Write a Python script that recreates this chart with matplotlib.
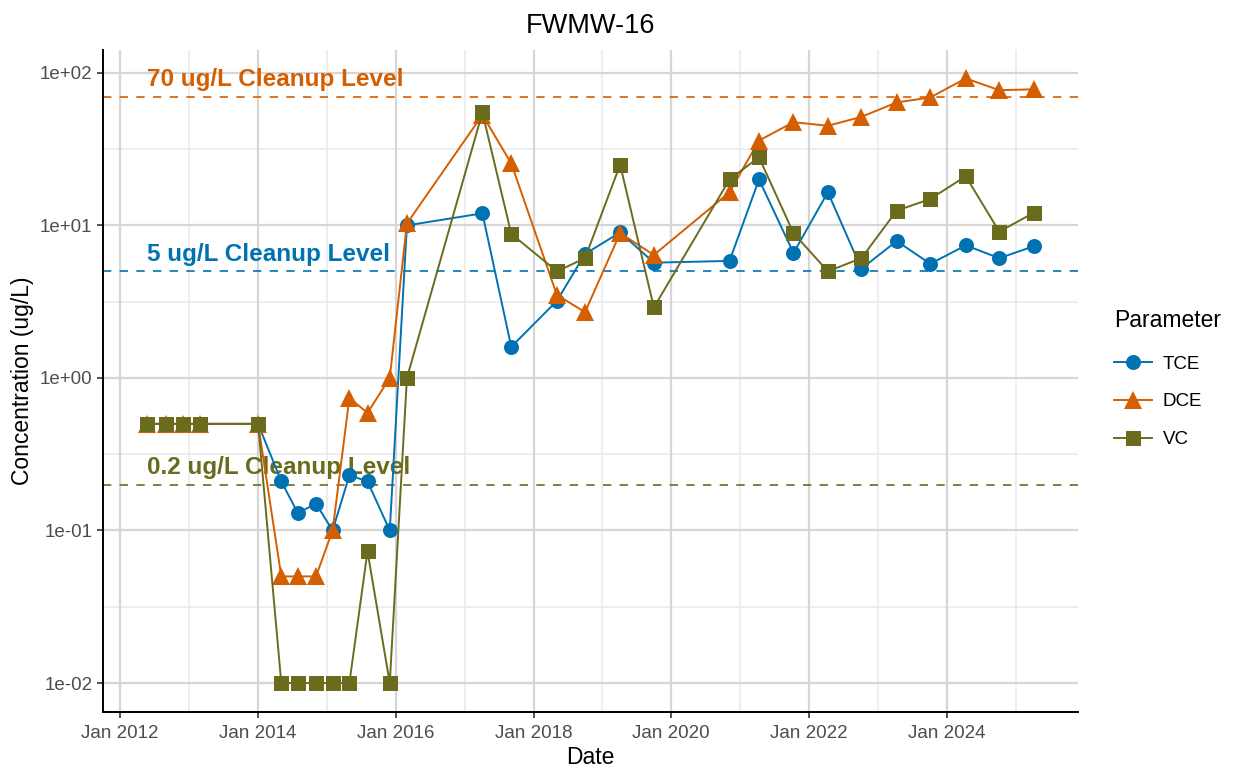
import matplotlib
matplotlib.use('Agg')
import matplotlib.pyplot as plt
import matplotlib.dates as mdates
from matplotlib.ticker import FixedLocator, FuncFormatter
import pandas as pd
import numpy as np

plt.rcParams['font.family'] = ['Liberation Sans', 'DejaVu Sans']

# sampling dates for FWMW-16
dates = pd.to_datetime([
    '2012-05-25', '2012-09-01', '2012-11-30', '2013-03-01', '2014-01-02',
    '2014-05-05', '2014-08-01', '2014-11-05', '2015-02-01', '2015-05-01',
    '2015-08-05', '2015-12-01', '2016-03-01', '2017-04-05', '2017-09-05',
    '2018-05-05', '2018-10-01', '2019-04-05', '2019-10-01', '2020-11-05',
    '2021-04-10', '2021-10-10', '2022-04-10', '2022-10-05', '2023-04-10',
    '2023-10-05', '2024-04-10', '2024-10-05', '2025-04-05',
])

tce = [0.5, 0.5, 0.5, 0.5, 0.5, 0.21, 0.13, 0.15, 0.1, 0.23, 0.21, 0.1, 10,
       12, 1.6, 3.2, 6.5, 9.0, 5.7, 5.85, 20, 6.6, 16.5, 5.2, 7.9, 5.6, 7.4,
       6.1, 7.3]
dce = [0.5, 0.5, 0.5, 0.5, 0.5, 0.05, 0.05, 0.05, 0.1, 0.74, 0.59, 1.0, 10.3,
       53, 25.5, 3.5, 2.7, 8.9, 6.4, 16.5, 36, 47.5, 45, 51.5, 64, 69, 92,
       77, 78]
vc = [0.5, 0.5, 0.5, 0.5, 0.5, 0.01, 0.01, 0.01, 0.01, 0.01, 0.073, 0.01, 1.0,
      55, 8.8, 5.0, 6.1, 25, 2.9, 20, 28, 8.9, 5.0, 6.1, 12.5, 14.9, 21,
      9.1, 12.1]

params = ['TCE', 'DCE', 'VC']
colors = {'TCE': '#0072B2', 'DCE': '#D55E00', 'VC': '#6B6B1E'}
markers = {'TCE': ('o', 10.8), 'DCE': ('^', 13), 'VC': ('s', 10.8)}
series = {'TCE': tce, 'DCE': dce, 'VC': vc}

cleanup = [('VC', 0.2, '0.2 ug/L Cleanup Level'),
           ('TCE', 5, '5 ug/L Cleanup Level'),
           ('DCE', 70, '70 ug/L Cleanup Level')]

fig = plt.figure(figsize=(12.35, 7.67), dpi=100)
ax = fig.add_axes([103 / 1235, 1 - 712 / 767, (1078 - 103) / 1235, (712 - 50) / 767])

ax.set_yscale('log')
ax.set_ylim(10 ** -2.19, 10 ** 2.15)
ax.set_xlim(pd.Timestamp('2011-10-03'), pd.Timestamp('2025-11-26'))

# grid: decades + 2-year majors, half-decade + odd-year minors
ymaj = [1e-2, 1e-1, 1e0, 1e1, 1e2]
ymin = [10 ** (k + 0.5) for k in range(-3, 3)]
xmaj = pd.to_datetime([f'{y}-01-01' for y in range(2012, 2026, 2)])
xmin = pd.to_datetime([f'{y}-01-01' for y in range(2011, 2027, 2)])
for v in ymin:
    ax.axhline(v, color='#EBEBEB', lw=1.2, zorder=0)
for v in xmin:
    ax.axvline(v, color='#EBEBEB', lw=1.2, zorder=0)
for v in ymaj:
    ax.axhline(v, color='#D6D6D6', lw=1.6, zorder=0)
for v in xmaj:
    ax.axvline(v, color='#D6D6D6', lw=1.6, zorder=0)

ax.yaxis.set_major_locator(FixedLocator(ymaj))
ax.yaxis.set_minor_locator(FixedLocator([]))
ax.yaxis.set_major_formatter(FuncFormatter(
    lambda v, p: '1e%+03d' % int(round(np.log10(v)))))
ax.set_xticks(xmaj)
ax.xaxis.set_major_formatter(mdates.DateFormatter('%b %Y'))

# cleanup levels
for p, lvl, txt in cleanup:
    ax.axhline(lvl, color=colors[p], lw=1.2, ls=(0, (5, 5)), zorder=1)
    ax.annotate(txt, xy=(dates[0], lvl), xytext=(0, 7.5), textcoords='offset points',
                color=colors[p], fontsize=17.5, fontweight='bold', ha='left',
                va='baseline')

handles = []
for p in params:
    m, ms = markers[p]
    h, = ax.plot(dates, series[p], color=colors[p], lw=1.4, marker=m, ms=ms,
                 markeredgewidth=0, label=p, zorder=3)
    handles.append(h)

for s in ['top', 'right']:
    ax.spines[s].set_visible(False)
for s in ['left', 'bottom']:
    ax.spines[s].set_linewidth(1.4)
    ax.spines[s].set_color('black')
ax.tick_params(axis='both', length=4, width=1.2, color='#333333',
               labelcolor='#4D4D4D', labelsize=13.5)
ax.tick_params(axis='x', pad=5)

ax.set_title('FWMW-16', fontsize=19.5, pad=12)
ax.set_xlabel('Date', fontsize=16.5, labelpad=3)
ax.set_ylabel('Concentration (ug/L)', fontsize=16.5, labelpad=4)

leg = fig.legend(handles=handles, title='Parameter', loc='upper left',
                 bbox_to_anchor=(1114 / 1235, 1 - 309 / 767), frameon=False,
                 fontsize=13.5, title_fontsize=16.5, handlelength=2.0,
                 handletextpad=0.6, labelspacing=1.1, borderaxespad=0,
                 borderpad=0)
leg._legend_box.align = 'left'
leg._legend_box.sep = 17

fig.savefig('out.png', dpi=100)
